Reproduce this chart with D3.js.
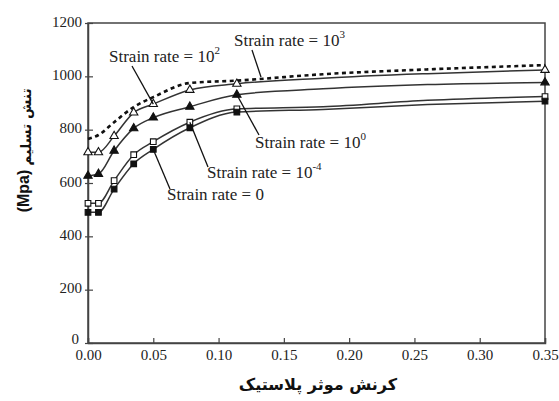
<!DOCTYPE html>
<html><head><meta charset="utf-8">
<script src="https://cdn.jsdelivr.net/npm/d3@7"></script>
<style>
body{margin:0;background:#fff}svg{display:block}
.serif{font-family:"Liberation Serif",Tinos,"Times New Roman",Times,"Nimbus Roman","Nimbus Roman No9 L","Noto Serif","DejaVu Serif",FreeSerif,serif}
</style>
</head><body><svg id="c" width="559" height="401"></svg>
<script>
const strain = [0, 0.008, 0.02, 0.035, 0.05, 0.078, 0.114, 0.18, 0.26, 0.35];
const hasMarker = [true, true, true, true, true, true, true, false, false, true];
const rate1e3 = [765, 780, 828, 885, 922, 975, 984, 1008, 1026, 1042];
const rate1e2 = [715, 715, 776, 864, 896, 949, 972, 993, 1010, 1024];
const rate1e0 = [627, 634, 721, 805, 845, 886, 931, 953, 969, 977];
const rate1em4 = [524, 524, 609, 706, 755, 828, 878, 886, 910, 924];
const rate0 = [490, 490, 577, 672, 726, 807, 866, 876, 894, 907];
const xTicks = [0, 0.05, 0.10, 0.15, 0.20, 0.25, 0.30, 0.35];
const yTicks = [0, 200, 400, 600, 800, 1000, 1200];

const svg = d3.select("#c");
const x = d3.scaleLinear().domain([0, 0.35]).range([88, 545]);
const y = d3.scaleLinear().domain([0, 1200]).range([343, 23]);
const ink = "#222";

svg.append("rect").attr("x", x(0)).attr("y", y(1200)).attr("width", x(0.35) - x(0)).attr("height", y(0) - y(1200))
  .attr("fill", "none").attr("stroke", "#444").attr("stroke-width", 1.5);

const xa = svg.append("g").attr("transform", `translate(0,${y(0)})`)
  .call(d3.axisBottom(x).tickValues(xTicks).tickSize(-5).tickPadding(8).tickFormat(d3.format(".2f")));
const ya = svg.append("g").attr("transform", `translate(${x(0)},0)`)
  .call(d3.axisLeft(y).tickValues(yTicks).tickSizeInner(-5).tickSizeOuter(0).tickPadding(6).tickFormat(d3.format("d")));
[xa, ya].forEach(a => {
  a.attr("font-family", null).attr("font-size", null);
  a.select(".domain").attr("stroke", "#444").attr("stroke-width", 1.5);
  a.selectAll(".tick line").attr("stroke", "#444").attr("stroke-width", 1.2);
  a.selectAll("text").attr("class", "serif").style("font-size", "15px").attr("fill", ink);
});
ya.selectAll(".tick text").attr("dy", "0.2em");
ya.selectAll(".tick").filter(d => d === 0).select("text").attr("dy", "0.05em").attr("x", -9);
xa.selectAll(".tick text").attr("dy", "0.6em");
ya.selectAll(".tick").append("line").attr("x1", -3).attr("x2", 0).attr("stroke", "#444").attr("stroke-width", 1.2);

const line = d3.line().x((d, i) => x(strain[i])).y(d => y(d)).curve(d3.curveMonotoneX);

svg.append("path").datum(rate1e3).attr("d", line).attr("fill", "none")
  .attr("stroke", "#111").attr("stroke-width", 2.6).attr("stroke-dasharray", "4,3.5");

const series = [
  {vals: rate1e2, shape: "tri", fill: "#fff"},
  {vals: rate1e0, shape: "tri", fill: "#111"},
  {vals: rate1em4, shape: "sq", fill: "#fff"},
  {vals: rate0, shape: "sq", fill: "#111"}
];
series.forEach(s => {
  svg.append("path").datum(s.vals).attr("d", line).attr("fill", "none")
    .attr("stroke", "#333").attr("stroke-width", 1.5);
});
series.forEach(s => {
  const pts = s.vals.map((v, i) => [strain[i], v]).filter((p, i) => hasMarker[i]);
  const sym = d3.symbol().type(s.shape === "tri" ? d3.symbolTriangle : d3.symbolSquare).size(s.shape === "tri" ? 30 : 32);
  svg.append("g").selectAll("path").data(pts).join("path")
    .attr("d", sym)
    .attr("transform", p => `translate(${x(p[0])},${y(p[1])})`)
    .attr("fill", s.fill).attr("stroke", "#111").attr("stroke-width", 1.1);
});

const notes = [
  {base: "Strain rate = 10", sup: "3", tx: 234, ty: 46, from: [252, 50], to: [261, 77]},
  {base: "Strain rate = 10", sup: "2", tx: 109, ty: 62, from: [132, 66], to: [x(strain[4]), y(rate1e2[4])]},
  {base: "Strain rate = 10", sup: "0", tx: 255, ty: 148, from: [x(strain[6]), y(rate1e0[6])], to: [259, 135]},
  {base: "Strain rate = 10", sup: "-4", tx: 207, ty: 178, from: [x(strain[5]), y(rate1em4[5])], to: [208, 167]},
  {base: "Strain rate = 0", sup: "", tx: 167, ty: 200, from: [x(strain[4]), y(rate0[4])], to: [170, 189]}
];
notes.forEach(n => {
  svg.append("line").attr("x1", n.from[0]).attr("y1", n.from[1]).attr("x2", n.to[0]).attr("y2", n.to[1])
    .attr("stroke", "#111").attr("stroke-width", 1.3);
  const t = svg.append("text").attr("x", n.tx).attr("y", n.ty).attr("class", "serif")
    .style("font-size", "17px").attr("fill", ink);
  t.append("tspan").text(n.base);
  if (n.sup) t.append("tspan").attr("dy", -8).style("font-size", "11px").text(n.sup);
});

svg.append("text").attr("x", 318).attr("y", 390).attr("text-anchor", "middle")
  .style("font-family", "'DejaVu Sans',sans-serif").attr("font-weight", "bold").style("font-size", "16px")
  .attr("fill", "#111").text("کرنش موثر پلاستیک");
svg.append("text").attr("transform", "translate(31,127) rotate(-90)").attr("text-anchor", "middle")
  .style("font-family", "'DejaVu Sans',sans-serif").attr("font-weight", "bold").style("font-size", "14px").attr("fill", "#111").text("تنش تسلیم");
svg.append("text").attr("transform", "translate(29,191) rotate(-90)").attr("text-anchor", "middle")
  .style("font-family", "'Liberation Sans',Arial,sans-serif").attr("font-weight", "bold").style("font-size", "16px")
  .attr("fill", "#111").text("(Mpa)");
</script></body></html>
